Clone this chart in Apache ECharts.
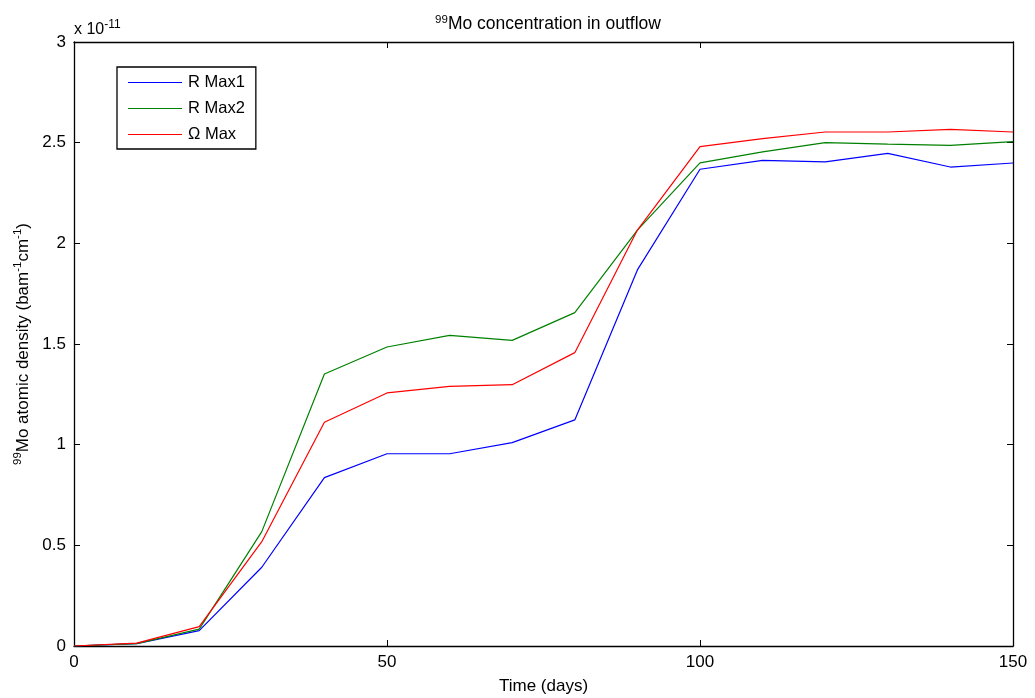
<!DOCTYPE html>
<html>
<head>
<meta charset="utf-8">
<script src="https://cdn.jsdelivr.net/npm/echarts@6/dist/echarts.min.js"></script>
<style>html,body{margin:0;padding:0;background:#fff}#c{width:1035px;height:698px}</style>
</head>
<body>
<div id="c"></div>
<script>
var days = [0,10,20,30,40,50,60,70,80,90,100,110,120,130,140,150];
var rMax1 = [0,0.012,0.076,0.391,0.836,0.955,0.955,1.01,1.123,1.868,2.368,2.412,2.405,2.447,2.379,2.399];
var rMax2 = [0,0.012,0.084,0.568,1.351,1.485,1.543,1.518,1.656,2.066,2.40,2.454,2.50,2.493,2.487,2.505];
var omegaMax = [0,0.014,0.096,0.518,1.111,1.257,1.29,1.298,1.457,2.066,2.48,2.52,2.553,2.553,2.566,2.553];
var xTicks = [0,50,100,150];
var yTicks = [0,0.5,1,1.5,2,2.5,3];

function pairs(v){ return days.map(function(d,i){ return [d, v[i]]; }); }
var F = '"Liberation Sans", Arial, sans-serif';
var chart = echarts.init(document.getElementById('c'));
var axBase = {
  axisLine:{show:true, onZero:false, lineStyle:{color:'#000', width:1.3}},
  axisTick:{show:true, inside:true, length:6, lineStyle:{color:'#000', width:1}},
  splitLine:{show:false}
};
chart.setOption({
  animation:false,
  backgroundColor:'#fff',
  title:{
    text:'{sup|99}{n|Mo concentration in outflow}',
    left:543, top:9, textAlign:'center',
    textStyle:{fontWeight:'normal', rich:{
      sup:{fontSize:11.5, fontFamily:F, color:'#000', fontWeight:'normal', verticalAlign:'top', padding:[0,0,8,0]},
      n:{fontSize:17.5, fontFamily:F, color:'#000', fontWeight:'normal'}
    }}
  },
  grid:{left:74, right:22, top:42, bottom:52, containLabel:false, outerBoundsMode:'none'},
  legend:{
    orient:'vertical', left:117, top:67,
    data:['R Max1','R Max2','\u03A9 Max'],
    backgroundColor:'#fff', borderColor:'#000', borderWidth:1.3, borderRadius:0,
    padding:[7,11,6,11], itemWidth:54, itemHeight:14, itemGap:9,
    textStyle:{fontFamily:F, fontSize:16.5, color:'#000', padding:[0,0,0,1]},
    icon:'path://M0,5L54,5L54,6L0,6Z'
  },
  graphic:[{
    type:'text', left:74, top:19,
    style:{text:'{n|x 10}{sup|-11}', rich:{
      n:{fontSize:16, fontFamily:F, fill:'#000'},
      sup:{fontSize:12, fontFamily:F, fill:'#000', verticalAlign:'top', padding:[0,0,10,0]}
    }}
  }],
  xAxis:[
    Object.assign({}, axBase, {
      type:'value', min:0, max:150, interval:50, position:'bottom',
      name:'Time (days)', nameLocation:'middle', nameGap:32,
      nameTextStyle:{fontFamily:F, fontSize:17, color:'#000'},
      axisLabel:{fontFamily:F, fontSize:17, color:'#000', margin:8,
        formatter:function(v){ return xTicks.indexOf(v)>=0 ? String(v) : ''; }}
    }),
    Object.assign({}, axBase, {
      type:'value', min:0, max:150, interval:50, position:'top',
      axisLabel:{show:false}
    })
  ],
  yAxis:[
    Object.assign({}, axBase, {
      type:'value', min:0, max:3, interval:0.5, position:'left',
      name:'{sup|99}{n|Mo atomic density (bam}{sup|-1}{n|cm}{sup|-1}{n|)}',
      nameLocation:'middle', nameGap:40, nameRotate:90,
      nameTextStyle:{rich:{
        n:{fontSize:17, fontFamily:F, color:'#000'},
        sup:{fontSize:11.5, fontFamily:F, color:'#000', verticalAlign:'top', padding:[0,0,10,0]}
      }},
      axisLabel:{fontFamily:F, fontSize:17, color:'#000', margin:8,
        formatter:function(v){ return yTicks.indexOf(v)>=0 ? String(v) : ''; }}
    }),
    Object.assign({}, axBase, {
      type:'value', min:0, max:3, interval:0.5, position:'right',
      axisLabel:{show:false}
    })
  ],
  series:[
    {name:'R Max1', type:'line', data:pairs(rMax1), symbol:'none', color:'#0000ff', lineStyle:{width:1.2, color:'#0000ff'}},
    {name:'R Max2', type:'line', data:pairs(rMax2), symbol:'none', color:'#008000', lineStyle:{width:1.2, color:'#008000'}},
    {name:'\u03A9 Max', type:'line', data:pairs(omegaMax), symbol:'none', color:'#ff0000', lineStyle:{width:1.2, color:'#ff0000'}}
  ]
});
</script>
</body>
</html>
